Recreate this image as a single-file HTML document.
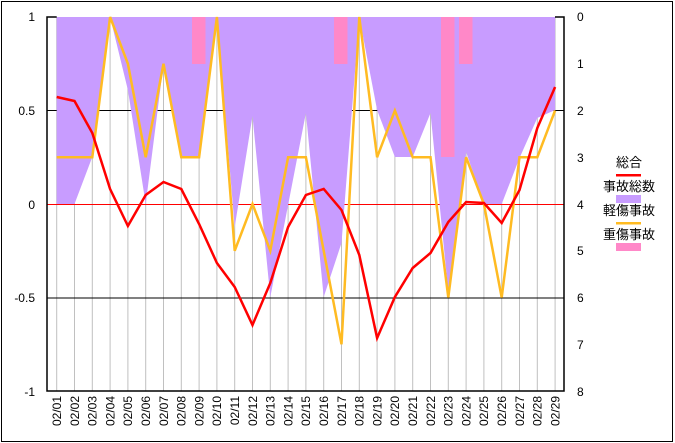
<!DOCTYPE html>
<html><head><meta charset="utf-8"><style>
html,body{margin:0;padding:0;background:#fff}
svg{display:block}
text{font-family:"Liberation Sans","Noto Sans CJK JP",sans-serif;font-size:12px;fill:#000}
</style></head><body>
<svg width="675" height="443" viewBox="0 0 675 443" xmlns="http://www.w3.org/2000/svg">
<rect x="1.5" y="1.5" width="671" height="440" fill="#fff" stroke="#000" stroke-width="1"/>
<g stroke="#c0c0c0" stroke-width="1">
<line x1="56.7" y1="17" x2="56.7" y2="391"/><line x1="74.5" y1="17" x2="74.5" y2="391"/><line x1="92.3" y1="17" x2="92.3" y2="391"/><line x1="110.1" y1="17" x2="110.1" y2="391"/><line x1="127.9" y1="17" x2="127.9" y2="391"/><line x1="145.7" y1="17" x2="145.7" y2="391"/><line x1="163.5" y1="17" x2="163.5" y2="391"/><line x1="181.3" y1="17" x2="181.3" y2="391"/><line x1="199.1" y1="17" x2="199.1" y2="391"/><line x1="216.9" y1="17" x2="216.9" y2="391"/><line x1="234.7" y1="17" x2="234.7" y2="391"/><line x1="252.5" y1="17" x2="252.5" y2="391"/><line x1="270.3" y1="17" x2="270.3" y2="391"/><line x1="288.1" y1="17" x2="288.1" y2="391"/><line x1="305.9" y1="17" x2="305.9" y2="391"/><line x1="323.7" y1="17" x2="323.7" y2="391"/><line x1="341.5" y1="17" x2="341.5" y2="391"/><line x1="359.3" y1="17" x2="359.3" y2="391"/><line x1="377.1" y1="17" x2="377.1" y2="391"/><line x1="394.9" y1="17" x2="394.9" y2="391"/><line x1="412.7" y1="17" x2="412.7" y2="391"/><line x1="430.5" y1="17" x2="430.5" y2="391"/><line x1="448.3" y1="17" x2="448.3" y2="391"/><line x1="466.1" y1="17" x2="466.1" y2="391"/><line x1="483.9" y1="17" x2="483.9" y2="391"/><line x1="501.7" y1="17" x2="501.7" y2="391"/><line x1="519.5" y1="17" x2="519.5" y2="391"/><line x1="537.3" y1="17" x2="537.3" y2="391"/><line x1="555.1" y1="17" x2="555.1" y2="391"/>
</g>
<g stroke="#000" stroke-width="1">
<line x1="47" y1="110.5" x2="564" y2="110.5"/>
<line x1="47" y1="298" x2="564" y2="298"/>
</g>
<line x1="47" y1="204.5" x2="564" y2="204.5" stroke="#ff0000" stroke-width="1"/>
<polygon fill="#c89cff" points="56.7,17 555.1,17 555.1,110 537.3,118 519.5,158 501.7,204 483.9,204 466.1,152 448.3,292 430.5,113 412.7,157 394.9,157 377.1,110 359.3,17 341.5,243 323.7,297 305.9,113 288.1,205 270.3,297 252.5,116 234.7,227 216.9,17 199.1,157 181.3,157 163.5,64 145.7,204 127.9,90 110.1,17 92.3,157 74.5,204 56.7,204"/>
<g fill="#ff88c8">
<rect x="192" y="17" width="13.5" height="47"/>
<rect x="334" y="17" width="13.5" height="47"/>
<rect x="441" y="17" width="13.5" height="140"/>
<rect x="459" y="17" width="13.5" height="47"/>
</g>
<polyline fill="none" stroke="#ffbb22" stroke-width="2.5" stroke-linejoin="miter" points="56.7,157.25 74.5,157.25 92.3,157.25 110.1,17 127.9,63.75 145.7,157.25 163.5,63.75 181.3,157.25 199.1,157.25 216.9,17 234.7,250.75 252.5,204 270.3,250.75 288.1,157.25 305.9,157.25 323.7,250.75 341.5,344.25 359.3,17 377.1,157.25 394.9,110.5 412.7,157.25 430.5,157.25 448.3,297.5 466.1,157.25 483.9,204 501.7,297.5 519.5,157.25 537.3,157.25 555.1,110.5"/>
<polyline fill="none" stroke="#ff0000" stroke-width="2.5" points="56.7,97 74.5,101 92.3,133 110.1,189 127.9,226 145.7,195 163.5,182 181.3,189 199.1,224 216.9,263 234.7,287 252.5,325 270.3,283 288.1,227 305.9,195 323.7,189 341.5,210 359.3,255 377.1,338 394.9,297 412.7,268 430.5,253 448.3,222 466.1,202 483.9,203 501.7,223 519.5,190 537.3,128 555.1,87"/>
<g stroke="#000" stroke-width="1.5" fill="none">
<polyline points="56.7,17 47,17 47,391 564,391 564,17 555,17"/>
</g>
<g text-anchor="end">
<text x="35" y="21">1</text>
<text x="35" y="115">0.5</text>
<text x="35" y="209">0</text>
<text x="35" y="302">-0.5</text>
<text x="35" y="396">-1</text>
</g>
<g>
<text x="577" y="21">0</text><text x="577" y="68">1</text><text x="577" y="115">2</text><text x="577" y="162">3</text><text x="577" y="209">4</text><text x="577" y="255">5</text><text x="577" y="302">6</text><text x="577" y="349">7</text><text x="577" y="396">8</text>
</g>
<g text-anchor="end" font-size="12">
<text transform="translate(61,396) rotate(-90)">02/01</text><text transform="translate(78.8,396) rotate(-90)">02/02</text><text transform="translate(96.6,396) rotate(-90)">02/03</text><text transform="translate(114.4,396) rotate(-90)">02/04</text><text transform="translate(132.2,396) rotate(-90)">02/05</text><text transform="translate(150,396) rotate(-90)">02/06</text><text transform="translate(167.8,396) rotate(-90)">02/07</text><text transform="translate(185.6,396) rotate(-90)">02/08</text><text transform="translate(203.4,396) rotate(-90)">02/09</text><text transform="translate(221.2,396) rotate(-90)">02/10</text><text transform="translate(239,396) rotate(-90)">02/11</text><text transform="translate(256.8,396) rotate(-90)">02/12</text><text transform="translate(274.6,396) rotate(-90)">02/13</text><text transform="translate(292.4,396) rotate(-90)">02/14</text><text transform="translate(310.2,396) rotate(-90)">02/15</text><text transform="translate(328,396) rotate(-90)">02/16</text><text transform="translate(345.8,396) rotate(-90)">02/17</text><text transform="translate(363.6,396) rotate(-90)">02/18</text><text transform="translate(381.4,396) rotate(-90)">02/19</text><text transform="translate(399.2,396) rotate(-90)">02/20</text><text transform="translate(417,396) rotate(-90)">02/21</text><text transform="translate(434.8,396) rotate(-90)">02/22</text><text transform="translate(452.6,396) rotate(-90)">02/23</text><text transform="translate(470.4,396) rotate(-90)">02/24</text><text transform="translate(488.2,396) rotate(-90)">02/25</text><text transform="translate(506,396) rotate(-90)">02/26</text><text transform="translate(523.8,396) rotate(-90)">02/27</text><text transform="translate(541.6,396) rotate(-90)">02/28</text><text transform="translate(559.4,396) rotate(-90)">02/29</text>
</g>
<g text-anchor="middle" style="font-size:13px">
<text x="629" y="167" style="font-size:13px">総合</text>
<text x="629" y="191" style="font-size:13px">事故総数</text>
<text x="629" y="215" style="font-size:13px">軽傷事故</text>
<text x="629" y="239" style="font-size:13px">重傷事故</text>
</g>
<rect x="616" y="174" width="25" height="2.5" fill="#ff0000"/>
<rect x="616" y="195" width="25" height="8" fill="#c89cff"/>
<rect x="616" y="222" width="25" height="2.5" fill="#ffbb22"/>
<rect x="616" y="243" width="25" height="8" fill="#ff88c8"/>
</svg>
</body></html>
